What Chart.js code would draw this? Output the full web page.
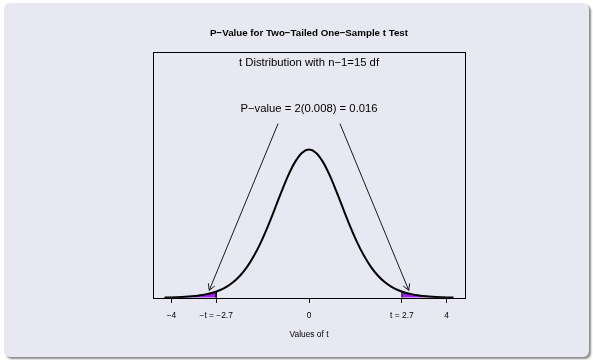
<!DOCTYPE html>
<html>
<head>
<meta charset="utf-8">
<script src="https://cdn.jsdelivr.net/npm/chart.js@4/dist/chart.umd.min.js"></script>
<style>
  html, body { margin: 0; padding: 0; background: #ffffff; }
  .panel {
    position: absolute; left: 4px; top: 3px; width: 585px; height: 354px;
    background: #e8e8f2; border-radius: 6px;
    box-shadow: 2px 2px 2px #8c8c8c;
  }
  canvas { position: absolute; left: 0; top: 0; }
</style>
</head>
<body>
<div class="panel"></div>
<canvas id="tplot" width="593" height="360"></canvas>
<script>
// t density, 15 df
const tValues = [-4.2, -4.0, -3.8, -3.6, -3.4, -3.2, -3.0, -2.8, -2.6, -2.4, -2.2, -2.0, -1.8, -1.6, -1.4, -1.2, -1.0, -0.8, -0.6, -0.4, -0.2,
    0, 0.2, 0.4, 0.6, 0.8, 1.0, 1.2, 1.4, 1.6, 1.8, 2.0, 2.2, 2.4, 2.6, 2.8, 3.0, 3.2, 3.4, 3.6, 3.8, 4.0, 4.2];
const densValues = [0.00078, 0.00118, 0.00178, 0.00269, 0.00405, 0.00609, 0.00912, 0.0136, 0.0200, 0.0291, 0.0418, 0.0591, 0.0819, 0.1110, 0.1466, 0.1881, 0.2337, 0.2803, 0.3239, 0.3597, 0.3834,
    0.3916, 0.3834, 0.3597, 0.3239, 0.2803, 0.2337, 0.1881, 0.1466, 0.1110, 0.0819, 0.0591, 0.0418, 0.0291, 0.0200, 0.0136, 0.00912, 0.00609, 0.00405, 0.00269, 0.00178, 0.00118, 0.00078];

// shaded tails beyond +/- 2.7
const leftTailX = [-4.2, -4.0, -3.8, -3.6, -3.4, -3.2, -3.0, -2.8, -2.7, -2.7];
const leftTailY = [0.00078, 0.00118, 0.00178, 0.00269, 0.00405, 0.00609, 0.00912, 0.0136, 0.0165, 0];
const rightTailX = [2.7, 2.7, 2.8, 3.0, 3.2, 3.4, 3.6, 3.8, 4.0, 4.2];
const rightTailY = [0, 0.0165, 0.0136, 0.00912, 0.00609, 0.00405, 0.00269, 0.00178, 0.00118, 0.00078];

// arrows: [fromX, fromY, toX, toY]
const arrowLeft = [-0.9, 0.46, -2.9, 0.02];
const arrowRight = [0.9, 0.46, 2.9, 0.02];

const tickVals = [-4, -2.7, 0, 2.7, 4];
const tickLabels = ['\u22124', '\u2212t = \u22122.7', '0', 't = 2.7', '4'];

const noteTexts = ['t Distribution with n\u22121=15 df', 'P\u2212value = 2(0.008) = 0.016'];
const noteY = [0.62, 0.5];

const toPts = (xs, ys) => xs.map((x, i) => ({ x: x, y: ys[i] }));

const boxAndNotes = {
    id: 'boxAndNotes',
    afterDatasetsDraw(chart) {
        const { ctx, chartArea: a, scales } = chart;
        ctx.save();
        // arrow heads
        ctx.strokeStyle = '#000';
        ctx.lineWidth = 0.9;
        [arrowLeft, arrowRight].forEach(ar => {
            const x0 = scales.x.getPixelForValue(ar[0]), y0 = scales.y.getPixelForValue(ar[1]);
            const x1 = scales.x.getPixelForValue(ar[2]), y1 = scales.y.getPixelForValue(ar[3]);
            const ang = Math.atan2(y1 - y0, x1 - x0);
            const len = 7, spread = Math.PI / 6;
            ctx.beginPath();
            ctx.moveTo(x1 - len * Math.cos(ang - spread), y1 - len * Math.sin(ang - spread));
            ctx.lineTo(x1, y1);
            ctx.lineTo(x1 - len * Math.cos(ang + spread), y1 - len * Math.sin(ang + spread));
            ctx.stroke();
        });
        // frame
        ctx.lineWidth = 1;
        ctx.strokeRect(Math.round(a.left) + 0.5, Math.round(a.top) + 0.5,
            Math.round(a.right - a.left), Math.round(a.bottom - a.top));
        // notes
        ctx.fillStyle = '#000';
        ctx.font = '11.3px "Liberation Sans", Arial, sans-serif';
        ctx.textAlign = 'center';
        ctx.textBaseline = 'middle';
        noteTexts.forEach((t, i) => {
            ctx.fillText(t, scales.x.getPixelForValue(0), scales.y.getPixelForValue(noteY[i]));
        });
        ctx.restore();
    }
};

const chart = new Chart(document.getElementById('tplot').getContext('2d'), {
    type: 'scatter',
    data: {
        datasets: [
            {
                data: toPts(tValues, densValues),
                showLine: true,
                borderColor: '#000',
                borderWidth: 2,
                pointRadius: 0,
                cubicInterpolationMode: 'monotone',
                fill: false
            },
            {
                data: toPts(leftTailX, leftTailY),
                showLine: true,
                borderColor: '#000',
                borderWidth: 1,
                backgroundColor: '#a020f0',
                pointRadius: 0,
                fill: 'origin'
            },
            {
                data: toPts(rightTailX, rightTailY),
                showLine: true,
                borderColor: '#000',
                borderWidth: 1,
                backgroundColor: '#a020f0',
                pointRadius: 0,
                fill: 'origin'
            },
            {
                data: [{ x: arrowLeft[0], y: arrowLeft[1] }, { x: arrowLeft[2], y: arrowLeft[3] }],
                showLine: true,
                borderColor: '#000',
                borderWidth: 0.9,
                pointRadius: 0
            },
            {
                data: [{ x: arrowRight[0], y: arrowRight[1] }, { x: arrowRight[2], y: arrowRight[3] }],
                showLine: true,
                borderColor: '#000',
                borderWidth: 0.9,
                pointRadius: 0
            }
        ]
    },
    options: {
        responsive: false,
        animation: false,
        layout: {
            padding: { left: 153, right: 128, top: 0, bottom: 20 }
        },
        plugins: {
            legend: { display: false },
            tooltip: { enabled: false },
            title: {
                display: true,
                text: 'P\u2212Value for Two\u2212Tailed One\u2212Sample t Test',
                color: '#000',
                font: { family: '"Liberation Sans", Arial, sans-serif', size: 9.75, weight: 'bold' },
                padding: { top: 27, bottom: 13 }
            }
        },
        scales: {
            x: {
                type: 'linear',
                min: -4.536,
                max: 4.536,
                afterBuildTicks: function (scale) {
                    scale.ticks = tickVals.map(v => ({ value: v }));
                },
                ticks: {
                    autoSkip: false,
                    maxRotation: 0,
                    padding: 8,
                    color: '#000',
                    font: { family: '"Liberation Sans", Arial, sans-serif', size: 8.4 },
                    callback: function (value, index) {
                        return tickLabels[index];
                    }
                },
                grid: {
                    display: true,
                    drawOnChartArea: false,
                    drawTicks: true,
                    tickLength: 5,
                    color: '#000',
                    lineWidth: 1
                },
                border: { display: false },
                title: {
                    display: true,
                    text: 'Values of t',
                    color: '#000',
                    font: { family: '"Liberation Sans", Arial, sans-serif', size: 8.4 },
                    padding: { top: 1, bottom: 0 }
                }
            },
            y: {
                display: false,
                min: 0,
                max: 0.65
            }
        }
    },
    plugins: [boxAndNotes]
});
</script>
</body>
</html>
